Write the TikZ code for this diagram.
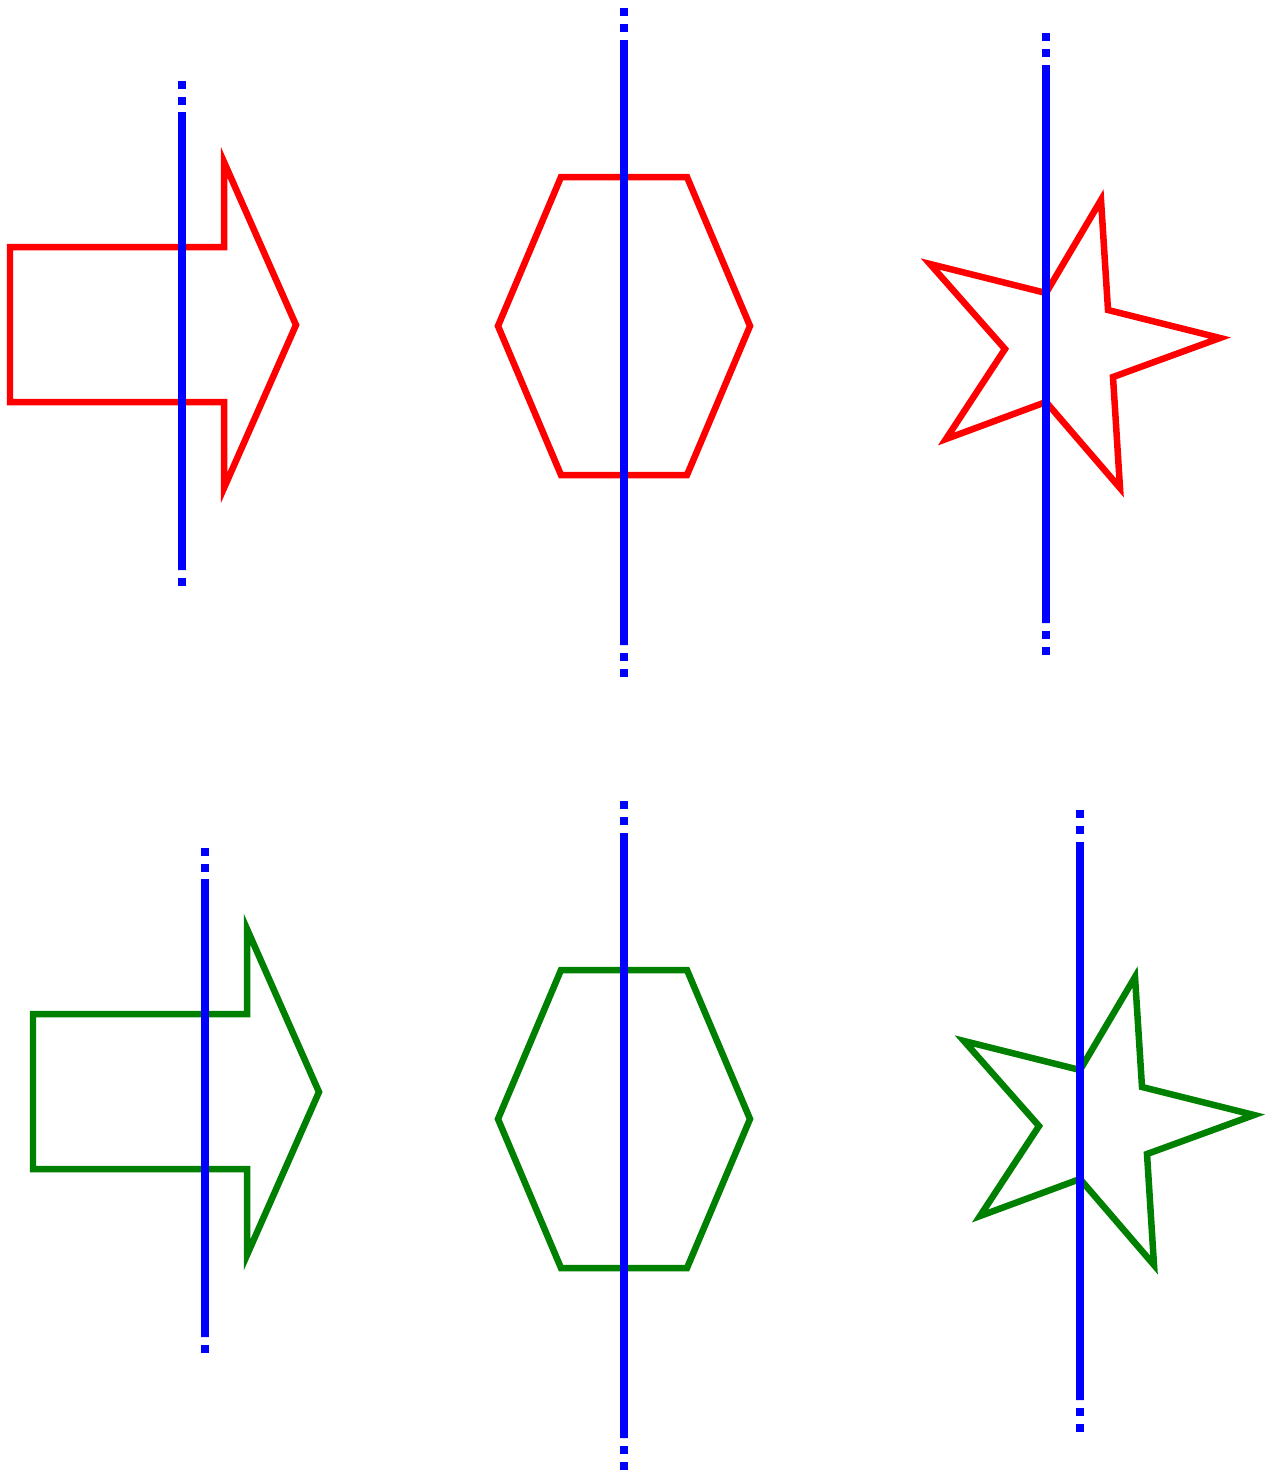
\documentclass[tikz,border=0pt]{standalone}
\usepackage{tikz}
\usetikzlibrary{calc}

\begin{document}
\begin{tikzpicture}[
  x=0.02cm, y=-0.02cm,
  outline/.style={line width=0.13cm, line join=miter},
  axisline/.style={line width=0.16cm, draw=blue},
  axisdots/.style={axisline, dash pattern=on 0.16cm off 0.16cm},
  % arrow with its axis
  arrowpic/.pic={
    \draw[outline] (10,247) -- (224,247) -- (224,162) -- (296,325)
      -- (224,488) -- (224,402) -- (10,402) -- cycle;
    \coordinate (-top) at (182,81);
    \coordinate (-a)   at (182,112);
    \coordinate (-b)   at (182,570);
    \coordinate (-bot) at (182,586);
    \draw[axisdots] (-top) -- (-a);
    \draw[axisdots] (-bot) -- (-b);
    \draw[axisline] (-a) -- (-b);
  },
  % hexagon with its axis
  hexpic/.pic={
    \draw[outline] (561,177) -- (687,177) -- (750,326) -- (687,475)
      -- (561,475) -- (498,326) -- cycle;
    \coordinate (-top) at (624,8);
    \coordinate (-a)   at (624,48);
    \coordinate (-b)   at (624,645);
    \coordinate (-bot) at (624,677);
    \draw[axisdots] (-top) -- (-a);
    \draw[axisdots] (-bot) -- (-b);
    \draw[axisline] (-a) -- (-b);
  },
  % star with its axis
  starpic/.pic={
    \draw[outline] (1101,200) -- (1108,310) -- (1220,338) -- (1113,377)
      -- (1120,488) -- (1046,402) -- (946,439) -- (1005,349)
      -- (930,264) -- (1046,293) -- cycle;
    \coordinate (-top) at (1046,33);
    \coordinate (-a)   at (1046,65);
    \coordinate (-b)   at (1046,623);
    \coordinate (-bot) at (1046,655);
    \draw[axisdots] (-top) -- (-a);
    \draw[axisdots] (-bot) -- (-b);
    \draw[axisline] (-a) -- (-b);
  }
]
\useasboundingbox (0,0) rectangle (1271,1470);

% top row
\pic[red] (rarrow) {arrowpic};
\pic[red] (rhex)   {hexpic};
\pic[red] (rstar)  {starpic};

% bottom row (same shapes, moved down)
\pic[green!50!black, shift={(23,767)}] (garrow) {arrowpic};
\pic[green!50!black, shift={(0,793)}]  (ghex)   {hexpic};
\pic[green!50!black, shift={(34,777)}] (gstar)  {starpic};

\end{tikzpicture}
\end{document}
